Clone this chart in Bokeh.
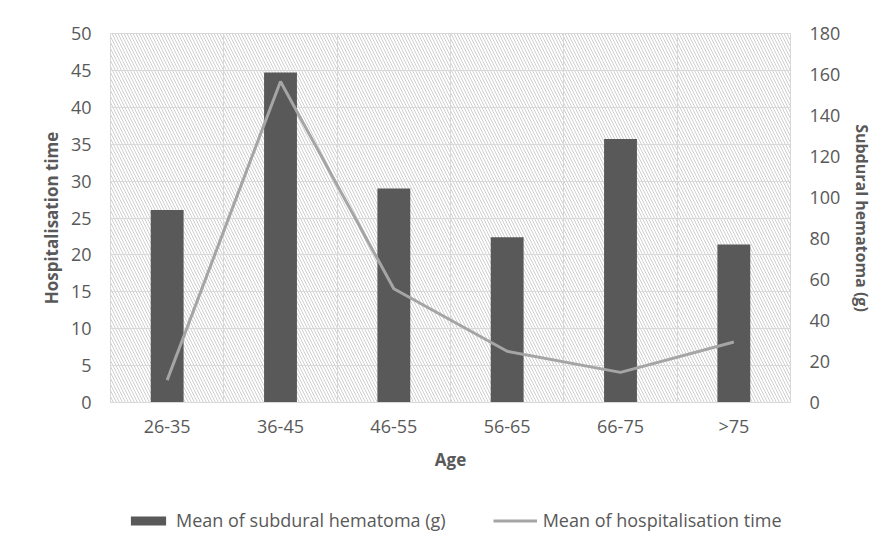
from bokeh.plotting import figure
from bokeh.layouts import column
from bokeh.models import (FactorRange, Range1d, LinearAxis, BoxAnnotation, FixedTicker,
                          SingleIntervalTicker, Legend, LegendItem, ColumnDataSource)
from bokeh.embed import file_html
from bokeh.resources import INLINE

# ---- data ----
age_groups = ["26-35", "36-45", "46-55", "56-65", "66-75", ">75"]
bar_values = [26.1, 44.7, 29.0, 22.4, 35.7, 21.4]      # dark bars (left axis, 0-50)
line_values = [10.9, 156.6, 55.5, 25.0, 14.7, 29.5]    # grey line (right axis, 0-180)

bar_label = "Mean of subdural hematoma (g)"
line_label = "Mean of hospitalisation time"
left_title = "Hospitalisation time"
right_title = "Subdural hematoma (g)"
x_title = "Age"

FONT = "Open Sans"
TXT = "#595959"
GRID = "#d9d9d9"
BAR_COLOR = "#595959"
LINE_COLOR = "#a5a5a5"

W, H, HL = 880, 495, 50
source = ColumnDataSource(dict(age=age_groups, bars=bar_values, line=line_values))

p = figure(width=W, height=H,
           x_range=FactorRange(*age_groups, range_padding=0),
           y_range=Range1d(0, 50),
           output_backend="svg", toolbar_location=None,
           min_border_left=110, min_border_right=W - 790,
           min_border_top=33, min_border_bottom=H - 402)
p.extra_y_ranges = {"right": Range1d(0, 180)}

p.background_fill_color = "white"
p.border_fill_color = "white"
p.outline_line_color = GRID

# hatched plot-area background
hatch = BoxAnnotation(fill_color=None, fill_alpha=0, line_color=None,
                      hatch_pattern="\\", hatch_color="#cfcfcf",
                      hatch_scale=6, hatch_weight=1, level="image")
p.add_layout(hatch)

# grids
p.ygrid.grid_line_color = GRID
p.ygrid.grid_line_width = 1
p.xgrid.grid_line_color = GRID
p.xgrid.grid_line_width = 1
p.xgrid.ticker = FixedTicker(ticks=list(range(1, len(age_groups))))

p.vbar(x="age", top="bars", width=0.29, source=source,
       fill_color=BAR_COLOR, line_color=None)
p.line(x="age", y="line", source=source, y_range_name="right",
       line_color=LINE_COLOR, line_width=3)

# left axis
ya = p.yaxis[0]
ya.ticker = SingleIntervalTicker(interval=5, num_minor_ticks=0)
ya.axis_label = left_title
ya.axis_line_color = None
ya.major_tick_line_color = None
ya.minor_tick_line_color = None
ya.major_label_standoff = 13
ya.axis_label_standoff = 5
ya.major_label_text_font = FONT
ya.major_label_text_font_size = "18px"
ya.major_label_text_color = TXT
ya.axis_label_text_font = FONT
ya.axis_label_text_font_size = "17px"
ya.axis_label_text_font_style = "bold"
ya.axis_label_text_color = TXT

# right axis
ra = LinearAxis(y_range_name="right",
                ticker=SingleIntervalTicker(interval=20, num_minor_ticks=0),
                axis_label=right_title)
ra.axis_line_color = None
ra.major_tick_line_color = None
ra.minor_tick_line_color = None
ra.major_label_standoff = 13
ra.axis_label_standoff = 8
ra.major_label_text_font = FONT
ra.major_label_text_font_size = "18px"
ra.major_label_text_color = TXT
ra.axis_label_text_font = FONT
ra.axis_label_text_font_size = "16px"
ra.axis_label_text_font_style = "bold"
ra.axis_label_text_color = TXT
p.add_layout(ra, "right")

# x axis
xa = p.xaxis[0]
xa.axis_label = x_title
xa.axis_line_color = GRID
xa.major_tick_line_color = None
xa.minor_tick_line_color = None
xa.major_label_standoff = 5
xa.axis_label_standoff = 7
xa.major_label_text_font = FONT
xa.major_label_text_font_size = "18px"
xa.major_label_text_color = TXT
xa.axis_label_text_font = FONT
xa.axis_label_text_font_size = "17px"
xa.axis_label_text_font_style = "bold"
xa.axis_label_text_color = TXT

# legend strip below the chart; its glyphs lie far outside its y range, so
# only the legend swatches are visible
f2 = figure(width=W, height=HL, x_range=p.x_range, y_range=Range1d(1000, 1001),
            output_backend="svg", toolbar_location=None, min_border=0,
            x_axis_location=None, y_axis_location=None, outline_line_color=None)
f2.grid.visible = False
lb = f2.vbar(x="age", top="bars", width=0.29, source=source,
             fill_color=BAR_COLOR, line_color=None)
ll = f2.line(x="age", y="line", source=source,
             line_color=LINE_COLOR, line_width=3)

legend = Legend(items=[LegendItem(label=bar_label, renderers=[lb]),
                       LegendItem(label=line_label, renderers=[ll])],
                orientation="horizontal", location=(16, 13),
                border_line_color=None, background_fill_alpha=0,
                label_text_font=FONT, label_text_font_size="18px",
                label_text_color=TXT, glyph_width=44, glyph_height=11,
                label_standoff=6, spacing=47, padding=5, margin=0)
f2.add_layout(legend)

layout = column(p, f2, spacing=0)
open("out.html", "w").write(file_html(layout, INLINE))
